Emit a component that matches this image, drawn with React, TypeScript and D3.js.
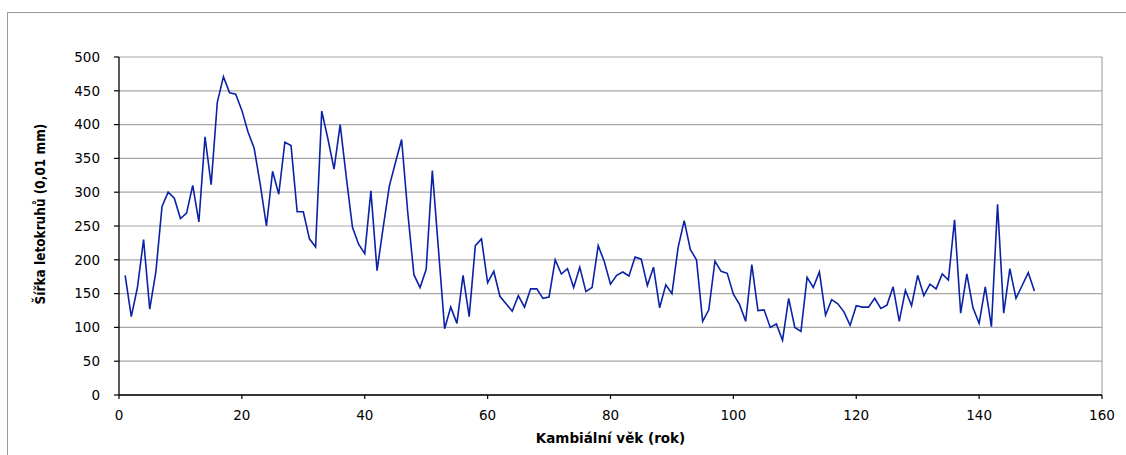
import React from "react";
import * as d3 from "d3";

// Cambial age (years) and ring width (0.01 mm)
const ages: number[] = d3.range(1, 150);
const ringWidth: number[] = [
  177, 116, 159, 230, 127, 182, 279, 300, 291, 261,
  269, 310, 256, 382, 311, 433, 471, 447, 445, 421,
  389, 365, 311, 250, 331, 297, 374, 369, 271, 271,
  231, 219, 420, 379, 334, 400, 322, 248, 223, 209,
  302, 184, 248, 309, 344, 378, 270, 178, 159, 186,
  332, 215, 98, 130, 106, 177, 116, 221, 231, 166,
  183, 146, 135, 124, 147, 130, 157, 157, 143, 145,
  200, 179, 187, 159, 189, 153, 159, 221, 197, 164,
  177, 182, 176, 204, 201, 162, 189, 129, 163, 150,
  218, 258, 215, 200, 109, 126, 198, 183, 180, 149,
  134, 109, 193, 125, 126, 100, 105, 81, 143, 100,
  94, 174, 159, 182, 118, 141, 135, 123, 103, 132,
  130, 130, 143, 128, 133, 160, 109, 155, 132, 177,
  147, 164, 157, 179, 170, 259, 121, 179, 129, 106,
  160, 101, 282, 121, 187, 143, 162, 181, 154,
];

const xTicks: number[] = [0, 20, 40, 60, 80, 100, 120, 140, 160];
const yTicks: number[] = [0, 50, 100, 150, 200, 250, 300, 350, 400, 450, 500];

const xTitle = "Kambiální věk (rok)";
const yTitle = "Šířka letokruhů (0,01 mm)";

const W = 1126;
const H = 455;
const plot = { left: 119, right: 1102, top: 57, bottom: 395 };

export default function App() {
  const x = d3.scaleLinear().domain([0, 160]).range([plot.left, plot.right]);
  const y = d3.scaleLinear().domain([0, 500]).range([plot.bottom, plot.top]);

  const line = d3
    .line<number>()
    .x((_, i) => x(ages[i]))
    .y((d) => y(d));

  const tickFont = "'DejaVu Sans', Verdana, sans-serif";

  return (
    <svg
      width={W}
      height={H}
      style={{ position: "absolute", left: 0, top: 0, background: "#fff" }}
    >
      {/* chart frame */}
      <rect x={7.5} y={12.5} width={1130} height={460} fill="#fff" stroke="#9a9a9a" strokeWidth={1} />

      {/* horizontal gridlines */}
      {yTicks.map((t) => (
        <line
          key={"g" + t}
          x1={plot.left}
          x2={plot.right}
          y1={y(t)}
          y2={y(t)}
          stroke="#a6a6a6"
          strokeWidth={1.2}
        />
      ))}
      {/* plot area border (right side) */}
      <line x1={plot.right} x2={plot.right} y1={plot.top} y2={plot.bottom} stroke="#a6a6a6" strokeWidth={1.2} />

      {/* series */}
      <path d={line(ringWidth) || ""} fill="none" stroke="#0a22a6" strokeWidth={1.6} strokeLinejoin="miter" />

      {/* y axis */}
      <line x1={plot.left} x2={plot.left} y1={plot.top} y2={plot.bottom} stroke="#000" strokeWidth={1.3} />
      {yTicks.map((t) => (
        <g key={"y" + t}>
          <line x1={plot.left - 5} x2={plot.left} y1={y(t)} y2={y(t)} stroke="#000" strokeWidth={1.2} />
          <text
            x={plot.left - 19}
            y={y(t)}
            dy="0.36em"
            textAnchor="end"
            fontFamily={tickFont}
            fontSize={13.5}
            fill="#000"
          >
            {t}
          </text>
        </g>
      ))}

      {/* x axis */}
      <line x1={plot.left} x2={plot.right} y1={plot.bottom} y2={plot.bottom} stroke="#000" strokeWidth={1.3} />
      {xTicks.map((t) => (
        <g key={"x" + t}>
          <line x1={x(t)} x2={x(t)} y1={plot.bottom} y2={plot.bottom + 4} stroke="#000" strokeWidth={1.2} />
          <text
            x={x(t)}
            y={plot.bottom + 20}
            dy="0.36em"
            textAnchor="middle"
            fontFamily={tickFont}
            fontSize={13.5}
            fill="#000"
          >
            {t}
          </text>
        </g>
      ))}

      {/* axis titles */}
      <text
        x={(plot.left + plot.right) / 2}
        y={438}
        dy="0.36em"
        textAnchor="middle"
        fontFamily={tickFont}
        fontWeight="bold"
        fontSize={13.5}
        fill="#000"
      >
        {xTitle}
      </text>
      <text
        transform="translate(40, 214) rotate(-90)"
        dy="0.36em"
        textAnchor="middle"
        fontFamily="'Liberation Sans Narrow', 'DejaVu Sans Condensed', 'Liberation Sans', sans-serif"
        fontWeight="bold"
        fontSize={13.5}
        fill="#000"
      >
        {yTitle}
      </text>
    </svg>
  );
}
